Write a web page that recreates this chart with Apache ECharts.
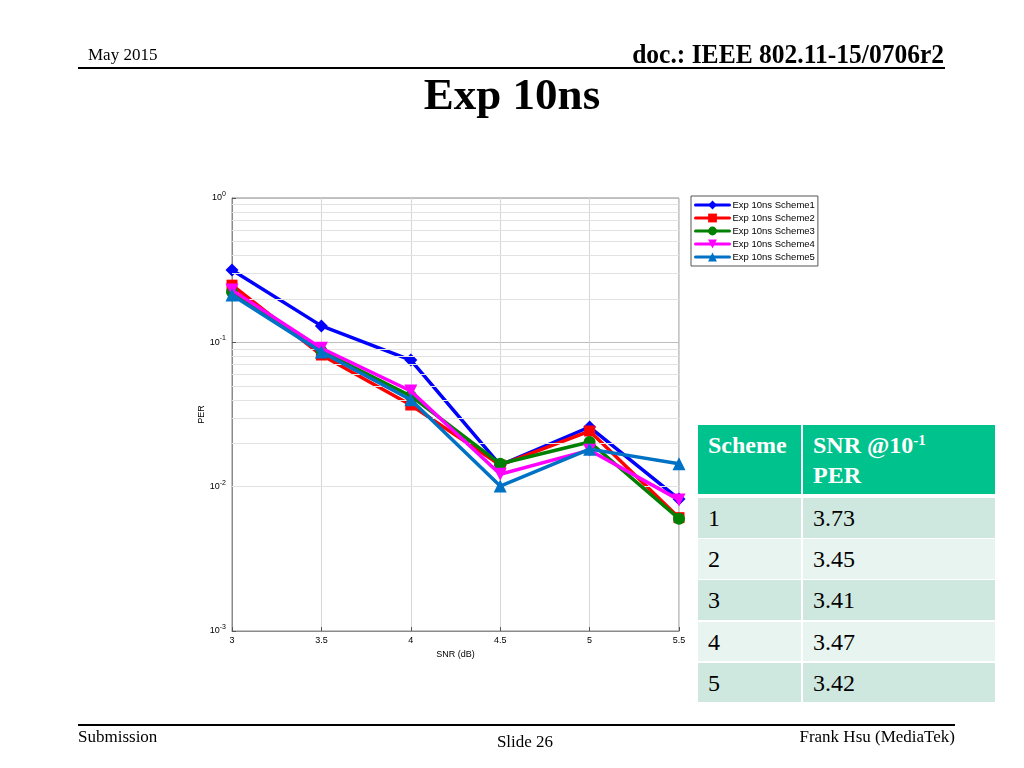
<!DOCTYPE html>
<html><head><meta charset="utf-8">
<script src="https://cdn.jsdelivr.net/npm/echarts@6/dist/echarts.min.js"></script>
<style>
html,body{margin:0;padding:0;background:#fff;}
#wrap{position:relative;width:1024px;height:768px;overflow:hidden;}
#chart{position:absolute;left:0;top:0;width:1024px;height:768px;}
.t{position:absolute;font-family:"Liberation Serif","Times New Roman",serif;color:#000;white-space:nowrap;}
.cell{position:absolute;font-family:"Liberation Serif","Times New Roman",serif;font-size:24px;box-sizing:border-box;padding-left:10px;}
</style></head>
<body><div id="wrap">
<div id="chart"></div>
<div class="t" style="left:88px;top:46px;font-size:17px;line-height:17px;">May 2015</div>
<div class="t" style="right:80px;top:41px;font-size:27px;line-height:27px;font-weight:bold;transform:scaleX(0.945);transform-origin:right center;">doc.: IEEE 802.11-15/0706r2</div>
<div style="position:absolute;left:78px;top:67px;width:867px;height:2px;background:#000;"></div>
<div class="t" style="left:0;width:1024px;text-align:center;top:68px;font-size:45px;font-weight:bold;">Exp 10ns</div>
<div style="position:absolute;left:78px;top:724px;width:877px;height:2px;background:#000;"></div>
<div class="t" style="left:78px;top:728px;font-size:17px;line-height:17px;">Submission</div>
<div class="t" style="left:0;width:1050px;text-align:center;top:733px;font-size:17px;line-height:17px;">Slide 26</div>
<div class="t" style="right:69px;top:728px;font-size:17px;line-height:17px;">Frank Hsu (MediaTek)</div>
<div id="table"></div>
</div>
<script>
// ---- data ----
var snr = [3, 3.5, 4, 4.5, 5, 5.5];
var seriesNames = ['Exp 10ns Scheme1','Exp 10ns Scheme2','Exp 10ns Scheme3','Exp 10ns Scheme4','Exp 10ns Scheme5'];
var scheme1 = [0.317, 0.130, 0.0754, 0.0141, 0.0259, 0.0082];
var scheme2 = [0.249, 0.0817, 0.0368, 0.0141, 0.0243, 0.0061];
var scheme3 = [0.223, 0.087, 0.0425, 0.0144, 0.0204, 0.0060];
var scheme4 = [0.230, 0.091, 0.046, 0.0122, 0.0179, 0.0081];
var scheme5 = [0.213, 0.0857, 0.040, 0.0101, 0.0182, 0.0144];
var xTicks = [3, 3.5, 4, 4.5, 5, 5.5];
var yTicks = [1, 0.1, 0.01, 0.001];
var tableSchemes = ['1','2','3','4','5'];
var tableSNR = ['3.73','3.45','3.41','3.47','3.42'];

var colors = ['#0000ff','#ff0000','#008000','#ff00ff','#0072c6'];
var symbols = ['diamond','rect','circle','triangle','triangle'];
var symRot = [0,0,0,180,0];
var symSize = [13,11,12,13,13];
var allData = [scheme1, scheme2, scheme3, scheme4, scheme5];

// minor log grid lines (2..9 x decade)
var minorGrid = [];
[0.001, 0.01, 0.1].forEach(function(d){ for (var k=2;k<=9;k++) minorGrid.push({yAxis: +(k*d).toPrecision(3)}); });

var series = allData.map(function(vals, i){
  return {
    name: seriesNames[i], type: 'line',
    data: vals.map(function(v, j){ return [snr[j], v]; }),
    symbol: symbols[i], symbolRotate: symRot[i], symbolSize: symSize[i],
    showAllSymbol: true,
    lineStyle: {color: colors[i], width: 3.5, cap: 'round', join: 'round'},
    itemStyle: {color: colors[i]},
    z: 3 + i
  };
});
series.unshift({
  name: 'minor', type: 'line', data: [], silent: true, z: 1,
  markLine: {silent: true, symbol: ['none','none'], label: {show: false},
    lineStyle: {color: '#e2e2e2', type: 'solid', width: 1}, data: minorGrid, animation: false}
});

var chart = echarts.init(document.getElementById('chart'));
chart.setOption({
  animation: false,
  grid: {left: 232, right: 345, top: 198, bottom: 137, show: true, borderColor: '#8a8a8a', borderWidth: 1, backgroundColor: 'transparent'},
  legend: {
    data: seriesNames, left: 691, top: 196, orient: 'vertical',
    borderColor: '#555', borderWidth: 1, padding: [4, 3, 4, 3], itemGap: 3,
    itemWidth: 34, itemHeight: 11, backgroundColor: '#fff',
    lineStyle: {width: 3},
    textStyle: {fontFamily: 'Liberation Sans, Arial', fontSize: 9.5, color: '#000', padding: [0,0,0,-2]}
  },
  xAxis: {
    type: 'value', min: 3, max: 5.5, interval: 0.5,
    name: 'SNR (dB)', nameLocation: 'middle', nameGap: 18,
    nameTextStyle: {fontFamily: 'Liberation Sans, Arial', fontSize: 9, color: '#000'},
    axisLine: {show: true, lineStyle: {color: '#8a8a8a'}},
    axisTick: {inside: true, length: 4, lineStyle: {color: '#555'}},
    axisLabel: {fontFamily: 'Liberation Sans, Arial', fontSize: 9, color: '#000', margin: 5,
      formatter: function(v){ return String(v); }},
    splitLine: {show: true, lineStyle: {color: '#d6d6d6', width: 1}}
  },
  yAxis: {
    type: 'log', min: 0.001, max: 1, logBase: 10,
    name: 'PER', nameLocation: 'middle', nameGap: 25,
    nameTextStyle: {fontFamily: 'Liberation Sans, Arial', fontSize: 9, color: '#000'},
    axisLine: {show: true, lineStyle: {color: '#8a8a8a'}},
    axisTick: {inside: true, length: 4, lineStyle: {color: '#555'}},
    axisLabel: {margin: 6,
      formatter: function(v){ var e = Math.round(Math.log10(v)); return '{b|10}{s|' + e + '}'; },
      rich: {b: {fontFamily: 'Liberation Sans, Arial', fontSize: 9, color: '#000'},
             s: {fontFamily: 'Liberation Sans, Arial', fontSize: 7, color: '#000', verticalAlign: 'top', padding: [0,0,8,0]}}},
    splitLine: {show: true, lineStyle: {color: '#bdbdbd', width: 1}}
  },
  series: series
});

// ---- table ----
var tbl = document.getElementById('table');
function cell(x, y, w, h, bg, html, extra){
  var d = document.createElement('div');
  d.className = 'cell';
  d.style.cssText += 'left:'+x+'px;top:'+y+'px;width:'+w+'px;height:'+h+'px;background:'+bg+';'+(extra||'');
  d.innerHTML = html; tbl.appendChild(d);
}
var c1x = 698, c1w = 103, c2x = 803, c2w = 192;
cell(c1x, 425, c1w, 69, '#00c28d', 'Scheme', 'color:#fff;font-weight:bold;padding-top:5px;line-height:30px;');
cell(c2x, 425, c2w, 69, '#00c28d', 'SNR @10<sup style="font-size:15px;vertical-align:8px;line-height:0;">-1</sup><br>PER', 'color:#fff;font-weight:bold;padding-top:5px;line-height:30px;');
tableSchemes.forEach(function(s, i){
  var y = 498 + i * 41.2;
  var bg = (i % 2 === 0) ? '#cfe8df' : '#e8f4ef';
  cell(c1x, y, c1w, 39.5, bg, s, 'line-height:40px;');
  cell(c2x, y, c2w, 39.5, bg, tableSNR[i], 'line-height:40px;');
});
</script>
</body></html>
